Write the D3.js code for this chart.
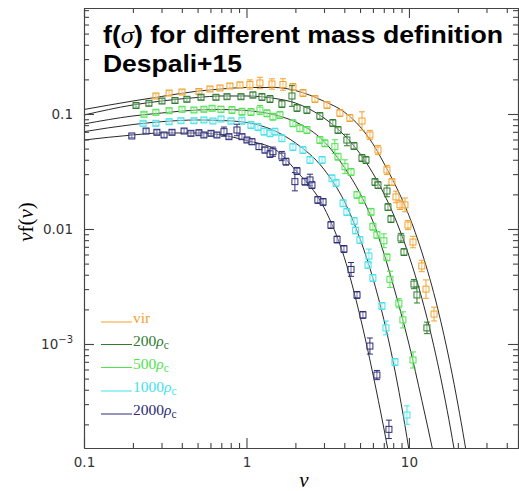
<!DOCTYPE html>
<html>
<head>
<meta charset="utf-8">
<script src="https://cdn.jsdelivr.net/npm/d3@7"></script>
<style>
  body { margin: 0; background: #fff; }
  svg { display: block; }
</style>
</head>
<body>
<svg id="chart"></svg>
<script>
/* series names, legend labels, colours */
const seriesNames = ['vir', '200', '500', '1000', '2000'];
const seriesColors = ['#f2a22e', '#2f7b2f', '#4fe34f', '#45e2ea', '#2c2c78'];

/* measured points: nu, nu f(nu), error (dex) */
const virNu = [0.277,0.334,0.401,0.510,0.596,0.687,0.791,0.912,1.05,1.21,1.435,1.678,1.932,2.228,2.64,3.13,3.76,4.33,5.14,5.75,6.45,7.32,7.86,8.32,8.81,9.45,9.86,10.59,12.0,12.73,14.27];
const virVal = [0.1434,0.1522,0.1553,0.157,0.165,0.1683,0.1752,0.1787,0.1805,0.186,0.1823,0.1805,0.1717,0.1522,0.135,0.1198,0.102,0.0923,0.0869,0.0657,0.0486,0.0326,0.0256,0.019,0.0162,0.0162,0.01083,0.0077,0.00477,0.0030,0.00182];
const virErr = [0.02,0.02,0.02,0.02,0.02,0.02,0.02,0.025,0.04,0.05,0.045,0.05,0.03,0.03,0.03,0.03,0.03,0.03,0.08,0.04,0.04,0.04,0.03,0.05,0.04,0.06,0.04,0.05,0.05,0.08,0.06];

const m200Nu = [0.209,0.251,0.302,0.363,0.430,0.525,0.649,0.759,0.925,1.096,1.245,1.396,1.652,1.905,2.046,2.355,2.83,3.40,3.66,4.15,4.59,5.14,5.44,6.18,6.45,7.32,7.43,7.75,8.93,9.32,10.74,11.2,12.9];
const m200Val = [0.1186,0.1239,0.1297,0.131,0.1342,0.1397,0.1397,0.1414,0.1414,0.1463,0.1405,0.135,0.1222,0.1434,0.1128,0.1083,0.0961,0.0835,0.0726,0.0594,0.0527,0.0414,0.0398,0.0256,0.0241,0.0214,0.0155,0.0122,0.00835,0.0063,0.00332,0.00267,0.00138];
const m200Err = [0.015,0.02,0.02,0.02,0.02,0.02,0.02,0.02,0.02,0.025,0.03,0.03,0.03,0.09,0.03,0.03,0.03,0.03,0.03,0.05,0.03,0.03,0.03,0.03,0.03,0.05,0.03,0.03,0.04,0.03,0.04,0.07,0.05];

const m500Nu = [0.234,0.277,0.334,0.401,0.475,0.547,0.614,0.697,0.814,0.938,1.066,1.21,1.337,1.455,1.607,1.932,2.13,2.355,2.83,3.04,3.50,3.66,4.04,4.40,4.79,5.14,5.84,6.0,6.35,7.01,7.32,7.64,8.67,9.18,10.59];
const m500Val = [0.0994,0.1035,0.1068,0.1099,0.1083,0.1099,0.1121,0.1099,0.1083,0.1047,0.1041,0.1083,0.1014,0.0947,0.098,0.083,0.0751,0.0726,0.0594,0.0556,0.052,0.0425,0.0348,0.0313,0.0198,0.0179,0.0141,0.01047,0.00887,0.0079,0.00567,0.00365,0.00226,0.00162,0.000726];
const m500Err = [0.015,0.02,0.02,0.02,0.02,0.02,0.02,0.025,0.03,0.03,0.03,0.04,0.03,0.03,0.03,0.03,0.03,0.03,0.03,0.03,0.06,0.03,0.06,0.03,0.03,0.03,0.03,0.03,0.03,0.06,0.03,0.07,0.04,0.07,0.07];

const m1000Nu = [0.231,0.277,0.334,0.395,0.475,0.547,0.622,0.697,0.803,0.938,1.066,1.178,1.282,1.396,1.496,1.652,1.932,2.228,2.46,2.92,3.36,3.56,3.93,4.15,4.60,4.70,4.99,5.60,5.67,6.0,6.82,7.22,8.2,9.72];
const m1000Val = [0.083,0.083,0.0857,0.0874,0.0874,0.0887,0.0869,0.0905,0.0869,0.0874,0.0802,0.0771,0.0702,0.0679,0.0702,0.0615,0.0516,0.0486,0.0398,0.0398,0.0276,0.0251,0.01673,0.01406,0.01174,0.0097,0.00801,0.00486,0.00582,0.00375,0.00214,0.00138,0.000697,0.000241];
const m1000Err = [0.015,0.02,0.02,0.02,0.02,0.02,0.02,0.02,0.025,0.03,0.03,0.03,0.03,0.03,0.03,0.03,0.03,0.03,0.03,0.03,0.03,0.03,0.03,0.03,0.03,0.03,0.03,0.03,0.06,0.03,0.03,0.06,0.03,0.08];

const m2000Nu = [0.197,0.241,0.281,0.311,0.348,0.413,0.455,0.510,0.547,0.605,0.658,0.727,0.780,0.874,0.938,1.007,1.081,1.194,1.30,1.396,1.455,1.652,1.75,1.986,2.046,2.29,2.46,2.53,2.75,2.96,3.31,3.61,3.98,4.40,4.79,5.21,5.75,6.35,7.53];
const m2000Val = [0.0644,0.0711,0.0693,0.0657,0.0693,0.0711,0.0679,0.0688,0.0657,0.0679,0.0657,0.0702,0.0635,0.0726,0.0635,0.0594,0.0574,0.052,0.0486,0.0449,0.047,0.0431,0.0385,0.0258,0.0319,0.0258,0.0267,0.0241,0.0179,0.0172,0.01083,0.0081,0.0067,0.00445,0.00267,0.00179,0.00096,0.000537,0.000181];
const m2000Err = [0.015,0.02,0.02,0.02,0.02,0.02,0.02,0.02,0.02,0.02,0.02,0.04,0.02,0.05,0.02,0.02,0.025,0.025,0.025,0.03,0.04,0.04,0.03,0.08,0.03,0.03,0.05,0.03,0.03,0.03,0.03,0.03,0.03,0.06,0.03,0.03,0.07,0.04,0.08];

/* fitted curves (black lines) */
const virFitNu = [0.1,0.2,0.3,0.5,0.7,1,1.5,2,3,4,5,6,7,8,10,12,15,18,20,22,24];
const virFitVal = [0.1094,0.1297,0.142,0.158,0.165,0.170,0.170,0.160,0.129,0.104,0.0775,0.055,0.0375,0.0262,0.0131,0.0063,0.00206,0.00065,0.0003,0.00014,0.000065];
const m200FitNu = [0.1,0.2,0.3,0.5,0.7,1,1.5,2,3,4,5,6,7,8,10,12,15,18,20];
const m200FitVal = [0.098,0.1198,0.1297,0.1392,0.1434,0.1434,0.1364,0.1246,0.0923,0.0653,0.0452,0.0305,0.0204,0.01355,0.00586,0.0025,0.000685,0.000186,0.000078];
const m500FitNu = [0.1,0.2,0.3,0.5,0.7,1,1.5,2,3,4,5,6,7,8,10,12,14,15];
const m500FitVal = [0.0819,0.0961,0.102,0.1083,0.1094,0.1072,0.098,0.0854,0.0577,0.0344,0.0204,0.01164,0.00618,0.00325,0.0010,0.000324,0.0001195,0.000075];
const m1000FitNu = [0.1,0.2,0.3,0.5,0.7,1,1.5,2,3,4,5,6,7,8,10,11];
const m1000FitVal = [0.0702,0.081,0.0857,0.0887,0.0878,0.0844,0.0711,0.056,0.033,0.0174,0.00822,0.00373,0.001637,0.000697,0.00012,0.0000495];
const m2000FitNu = [0.1,0.2,0.3,0.5,0.7,1,1.5,2,3,4,5,6,7,8];
const m2000FitVal = [0.0594,0.0657,0.0684,0.0684,0.0657,0.0588,0.0491,0.0326,0.01538,0.00566,0.001746,0.000548,0.000186,0.000068];

/* tick values */
const xMajor = [0.1, 1, 10];
const xMinor = [0.2,0.3,0.4,0.5,0.6,0.7,0.8,0.9,2,3,4,5,6,7,8,9,20,30,40];
const yMajor = [0.001, 0.01, 0.1];
const yMinor = [2e-4,3e-4,4e-4,5e-4,6e-4,7e-4,8e-4,9e-4,0.002,0.003,0.004,0.005,0.006,0.007,0.008,0.009,0.02,0.03,0.04,0.05,0.06,0.07,0.08,0.09,0.2,0.3,0.4,0.5,0.6,0.7,0.8];

const series = [
  {nu: virNu, val: virVal, err: virErr, fitNu: virFitNu, fitVal: virFitVal},
  {nu: m200Nu, val: m200Val, err: m200Err, fitNu: m200FitNu, fitVal: m200FitVal},
  {nu: m500Nu, val: m500Val, err: m500Err, fitNu: m500FitNu, fitVal: m500FitVal},
  {nu: m1000Nu, val: m1000Val, err: m1000Err, fitNu: m1000FitNu, fitVal: m1000FitVal},
  {nu: m2000Nu, val: m2000Val, err: m2000Err, fitNu: m2000FitNu, fitVal: m2000FitVal}
].map((s, i) => ({...s, name: seriesNames[i], color: seriesColors[i]}));

const width = 519, height = 491;
const plot = {left: 84, right: 518, top: 8, bottom: 448};

const svg = d3.select('#chart').attr('width', width).attr('height', height);

const x = d3.scaleLog().domain([0.1, 46.9]).range([plot.left, plot.right]);
const y = d3.scaleLog().domain([1.246e-4, 0.835]).range([plot.bottom, plot.top]);

svg.append('clipPath').attr('id', 'clip')
  .append('rect')
  .attr('x', plot.left).attr('y', plot.top)
  .attr('width', plot.right - plot.left).attr('height', plot.bottom - plot.top);

/* fitted curves */
const line = d3.line()
  .x(d => x(d[0]))
  .y(d => y(d[1]))
  .curve(d3.curveMonotoneX);

const g = svg.append('g').attr('clip-path', 'url(#clip)');

g.selectAll('path.fit')
  .data(series)
  .enter()
  .append('path')
  .attr('class', 'fit')
  .attr('d', s => line(s.fitNu.map((n, i) => [n, s.fitVal[i]])))
  .attr('fill', 'none')
  .attr('stroke', '#111')
  .attr('stroke-width', 0.9);

/* data points with error bars */
series.forEach(s => {
  const pts = s.nu.map((n, i) => ({nu: n, v: s.val[i], e: s.err[i]}));
  const pg = g.append('g').attr('stroke', s.color).attr('fill', 'none').attr('stroke-width', 1);
  pg.selectAll('line.bar').data(pts).enter().append('line')
    .attr('x1', d => x(d.nu)).attr('x2', d => x(d.nu))
    .attr('y1', d => y(d.v * Math.pow(10, d.e))).attr('y2', d => y(d.v / Math.pow(10, d.e)));
  pg.selectAll('line.capTop').data(pts).enter().append('line')
    .attr('x1', d => x(d.nu) - 3).attr('x2', d => x(d.nu) + 3)
    .attr('y1', d => y(d.v * Math.pow(10, d.e))).attr('y2', d => y(d.v * Math.pow(10, d.e)));
  pg.selectAll('line.capBot').data(pts).enter().append('line')
    .attr('x1', d => x(d.nu) - 3).attr('x2', d => x(d.nu) + 3)
    .attr('y1', d => y(d.v / Math.pow(10, d.e))).attr('y2', d => y(d.v / Math.pow(10, d.e)));
  pg.selectAll('rect').data(pts).enter().append('rect')
    .attr('x', d => x(d.nu) - 3).attr('y', d => y(d.v) - 3)
    .attr('width', 6).attr('height', 6)
    .attr('fill', 'rgba(255,255,255,0.35)');
});

/* axes: ticks point inward on all four sides */
const axisColor = '#444';
function styleAxis(sel) {
  sel.selectAll('path, line').attr('stroke', axisColor).attr('stroke-width', 1.1);
  sel.selectAll('text')
    .attr('font-family', 'DejaVu Sans, sans-serif')
    .attr('font-size', 13.5)
    .attr('fill', '#333');
}

svg.append('g').attr('transform', `translate(0,${plot.bottom})`)
  .call(d3.axisBottom(x).tickValues(xMajor).tickSize(-10).tickSizeOuter(0).tickPadding(9).tickFormat(d3.format('~g')))
  .call(styleAxis);
svg.append('g').attr('transform', `translate(0,${plot.bottom})`)
  .call(d3.axisBottom(x).tickValues(xMinor).tickSize(-5).tickSizeOuter(0).tickFormat(''))
  .call(styleAxis);

svg.append('g').attr('transform', `translate(0,${plot.top})`)
  .call(d3.axisTop(x).tickValues(xMajor).tickSize(-10).tickSizeOuter(0).tickFormat(''))
  .call(styleAxis);
svg.append('g').attr('transform', `translate(0,${plot.top})`)
  .call(d3.axisTop(x).tickValues(xMinor).tickSize(-5).tickSizeOuter(0).tickFormat(''))
  .call(styleAxis);

const yLeft = svg.append('g').attr('transform', `translate(${plot.left},0)`)
  .call(d3.axisLeft(y).tickValues(yMajor).tickSize(-10).tickSizeOuter(0).tickPadding(11)
    .tickFormat(d => d === 0.001 ? '' : d3.format('~g')(d)))
  .call(styleAxis);
svg.append('g').attr('transform', `translate(${plot.left},0)`)
  .call(d3.axisLeft(y).tickValues(yMinor).tickSize(-5).tickSizeOuter(0).tickFormat(''))
  .call(styleAxis);

/* 10^-3 label with superscript */
const expText = yLeft.selectAll('.tick').filter(d => d === 0.001).select('text');
expText.append('tspan').text('10');
expText.append('tspan').attr('dy', '-0.55em').attr('font-size', 10).text('\u22123');

svg.append('g').attr('transform', `translate(${plot.right},0)`)
  .call(d3.axisRight(y).tickValues(yMajor).tickSize(-10).tickSizeOuter(0).tickFormat(''))
  .call(styleAxis);
svg.append('g').attr('transform', `translate(${plot.right},0)`)
  .call(d3.axisRight(y).tickValues(yMinor).tickSize(-5).tickSizeOuter(0).tickFormat(''))
  .call(styleAxis);

/* axis titles */
svg.append('text')
  .attr('x', 304).attr('y', 487)
  .attr('text-anchor', 'middle')
  .attr('font-family', 'Liberation Serif, serif')
  .attr('font-style', 'italic')
  .attr('font-size', 21)
  .text('\u03bd');

const yTitle = svg.append('text')
  .attr('transform', 'translate(33,222) rotate(-90)')
  .attr('text-anchor', 'middle')
  .attr('font-family', 'Liberation Serif, serif')
  .attr('font-size', 21);
yTitle.append('tspan').attr('font-style', 'italic').text('\u03bd');
yTitle.append('tspan').text('f(');
yTitle.append('tspan').attr('font-style', 'italic').text('\u03bd');
yTitle.append('tspan').text(')');

/* legend */
const legend = svg.append('g');
const legendY = [322, 344.5, 367.5, 391, 414];
series.forEach((s, i) => {
  legend.append('line')
    .attr('x1', 101).attr('x2', 132)
    .attr('y1', legendY[i]).attr('y2', legendY[i])
    .attr('stroke', s.color).attr('stroke-width', 1);
  const t = legend.append('text')
    .attr('x', 133).attr('y', legendY[i] + 1)
    .attr('font-family', 'Liberation Serif, serif')
    .attr('font-size', 15.5)
    .attr('fill', s.color);
  if (s.name === 'vir') {
    t.text('vir');
  } else {
    t.append('tspan').text(s.name);
    t.append('tspan').attr('font-style', 'italic').text('\u03c1');
    t.append('tspan').attr('dy', 3).attr('font-size', 11.5).text('c');
  }
});

/* title */
const title1 = svg.append('text')
  .attr('x', 103).attr('y', 43)
  .attr('font-family', 'Liberation Sans, Arial, sans-serif')
  .attr('font-weight', 'bold')
  .attr('font-size', 24)
  .attr('textLength', 400)
  .attr('lengthAdjust', 'spacingAndGlyphs');
title1.append('tspan').text('f(');
title1.append('tspan').attr('font-family', 'Liberation Serif, serif').attr('font-style', 'italic').attr('font-weight', 'normal').text('\u03c3');
title1.append('tspan').text(') for different mass definition');

svg.append('text')
  .attr('x', 103).attr('y', 72)
  .attr('font-family', 'Liberation Sans, Arial, sans-serif')
  .attr('font-weight', 'bold')
  .attr('font-size', 24)
  .attr('textLength', 139)
  .attr('lengthAdjust', 'spacingAndGlyphs')
  .text('Despali+15');
</script>
</body>
</html>
